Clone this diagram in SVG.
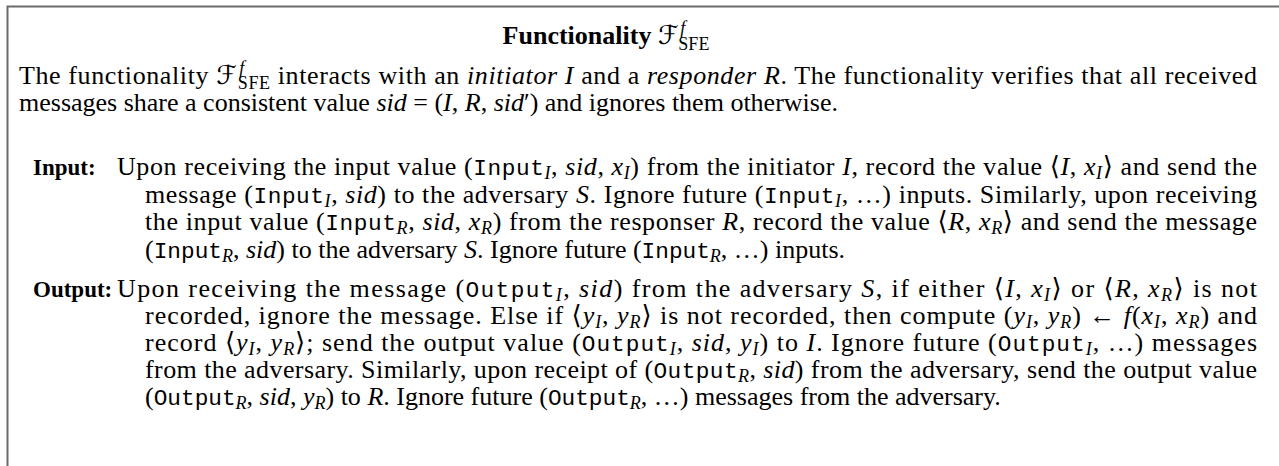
<svg xmlns="http://www.w3.org/2000/svg" width="1279" height="466" viewBox="0 0 1279 466">
<style>
text { font-family: "Liberation Serif", "Times New Roman", serif; font-size: 26px; fill: #000; }
.b { font-weight: bold; }
.lab { font-weight: bold; font-size: 23px; }
.i { font-style: italic; }
.tt { font-family: "Liberation Mono", "DejaVu Sans Mono", monospace; font-style: normal; font-size: 22.75px; }
.s { font-size: 18px; }
.cal { font-family: "DejaVu Sans", "DejaVu Serif", sans-serif; }
.sym { font-family: "DejaVu Serif", "DejaVu Sans", serif; }
.frame { fill: none; stroke: #6b6b6b; stroke-width: 2; }
</style>
<rect x="0" y="0" width="1279" height="466" fill="#ffffff"/>
<path class="frame" d="M7.5,466 V6.5 H1279"/>
<g id="title">
<text x="606" y="44" text-anchor="middle"><tspan class="b">Functionality </tspan><tspan class="cal">ℱ</tspan><tspan class="i s" dx="2" dy="-10">f</tspan><tspan class="s" dx="-7" dy="16">SFE</tspan></text>
</g>
<g id="intro">
<text x="19" y="84" textLength="1238" lengthAdjust="spacing">The functionality <tspan class="cal">ℱ</tspan><tspan class="i s" dx="2" dy="-10">f</tspan><tspan class="s" dx="-7" dy="15">SFE</tspan><tspan dy="-5"> interacts with an </tspan><tspan class="i">initiator I</tspan> and a <tspan class="i">responder R</tspan>. The functionality verifies that all received</text>
<text x="19" y="111">messages share a consistent value <tspan class="i">sid</tspan> = (<tspan class="i">I</tspan>, <tspan class="i">R</tspan>, <tspan class="i">sid</tspan>′) and ignores them otherwise.</text>
</g>
<g id="input">
<text class="lab" x="33" y="175">Input:</text>
<text x="117" y="175" textLength="1140" lengthAdjust="spacing">Upon receiving the input value (<tspan class="tt">Input</tspan><tspan class="i s" dy="4">I</tspan><tspan dy="-4">, </tspan><tspan class="i">sid</tspan>, <tspan class="i">x</tspan><tspan class="i s" dy="4">I</tspan><tspan dy="-4">) from the initiator </tspan><tspan class="i">I</tspan>, record the value <tspan class="sym">⟨</tspan><tspan class="i">I</tspan>, <tspan class="i">x</tspan><tspan class="i s" dy="4">I</tspan><tspan class="sym" dy="-4">⟩</tspan> and send the</text>
<text x="145" y="203" textLength="1112" lengthAdjust="spacing">message (<tspan class="tt">Input</tspan><tspan class="i s" dy="4">I</tspan><tspan dy="-4">, </tspan><tspan class="i">sid</tspan>) to the adversary <tspan class="i">S</tspan>. Ignore future (<tspan class="tt">Input</tspan><tspan class="i s" dy="4">I</tspan><tspan dy="-4">, …) inputs. Similarly, upon receiving</tspan></text>
<text x="145" y="230" textLength="1112" lengthAdjust="spacing">the input value (<tspan class="tt">Input</tspan><tspan class="i s" dy="4">R</tspan><tspan dy="-4">, </tspan><tspan class="i">sid</tspan>, <tspan class="i">x</tspan><tspan class="i s" dy="4">R</tspan><tspan dy="-4">) from the responser </tspan><tspan class="i">R</tspan>, record the value <tspan class="sym">⟨</tspan><tspan class="i">R</tspan>, <tspan class="i">x</tspan><tspan class="i s" dy="4">R</tspan><tspan class="sym" dy="-4">⟩</tspan> and send the message</text>
<text x="145" y="258">(<tspan class="tt">Input</tspan><tspan class="i s" dy="4">R</tspan><tspan dy="-4">, </tspan><tspan class="i">sid</tspan>) to the adversary <tspan class="i">S</tspan>. Ignore future (<tspan class="tt">Input</tspan><tspan class="i s" dy="4">R</tspan><tspan dy="-4">, …) inputs.</tspan></text>
</g>
<g id="output">
<text class="lab" x="33" y="297">Output:</text>
<text x="117" y="297" textLength="1140" lengthAdjust="spacing">Upon receiving the message (<tspan class="tt">Output</tspan><tspan class="i s" dy="4">I</tspan><tspan dy="-4">, </tspan><tspan class="i">sid</tspan>) from the adversary <tspan class="i">S</tspan>, if either <tspan class="sym">⟨</tspan><tspan class="i">I</tspan>, <tspan class="i">x</tspan><tspan class="i s" dy="4">I</tspan><tspan class="sym" dy="-4">⟩</tspan> or <tspan class="sym">⟨</tspan><tspan class="i">R</tspan>, <tspan class="i">x</tspan><tspan class="i s" dy="4">R</tspan><tspan class="sym" dy="-4">⟩</tspan> is not</text>
<text x="145" y="324" textLength="1112" lengthAdjust="spacing">recorded, ignore the message. Else if <tspan class="sym">⟨</tspan><tspan class="i">y</tspan><tspan class="i s" dy="4">I</tspan><tspan dy="-4">, </tspan><tspan class="i">y</tspan><tspan class="i s" dy="4">R</tspan><tspan class="sym" dy="-4">⟩</tspan> is not recorded, then compute (<tspan class="i">y</tspan><tspan class="i s" dy="4">I</tspan><tspan dy="-4">, </tspan><tspan class="i">y</tspan><tspan class="i s" dy="4">R</tspan><tspan dy="-4">) ← </tspan><tspan class="i">f</tspan>(<tspan class="i">x</tspan><tspan class="i s" dy="4">I</tspan><tspan dy="-4">, </tspan><tspan class="i">x</tspan><tspan class="i s" dy="4">R</tspan><tspan dy="-4">) and</tspan></text>
<text x="145" y="351" textLength="1112" lengthAdjust="spacing">record <tspan class="sym">⟨</tspan><tspan class="i">y</tspan><tspan class="i s" dy="4">I</tspan><tspan dy="-4">, </tspan><tspan class="i">y</tspan><tspan class="i s" dy="4">R</tspan><tspan class="sym" dy="-4">⟩</tspan>; send the output value (<tspan class="tt">Output</tspan><tspan class="i s" dy="4">I</tspan><tspan dy="-4">, </tspan><tspan class="i">sid</tspan>, <tspan class="i">y</tspan><tspan class="i s" dy="4">I</tspan><tspan dy="-4">) to </tspan><tspan class="i">I</tspan>. Ignore future (<tspan class="tt">Output</tspan><tspan class="i s" dy="4">I</tspan><tspan dy="-4">, …) messages</tspan></text>
<text x="145" y="378" textLength="1112" lengthAdjust="spacing">from the adversary. Similarly, upon receipt of (<tspan class="tt">Output</tspan><tspan class="i s" dy="4">R</tspan><tspan dy="-4">, </tspan><tspan class="i">sid</tspan>) from the adversary, send the output value</text>
<text x="145" y="405">(<tspan class="tt">Output</tspan><tspan class="i s" dy="4">R</tspan><tspan dy="-4">, </tspan><tspan class="i">sid</tspan>, <tspan class="i">y</tspan><tspan class="i s" dy="4">R</tspan><tspan dy="-4">) to </tspan><tspan class="i">R</tspan>. Ignore future (<tspan class="tt">Output</tspan><tspan class="i s" dy="4">R</tspan><tspan dy="-4">, …) messages from the adversary.</tspan></text>
</g>
</svg>
